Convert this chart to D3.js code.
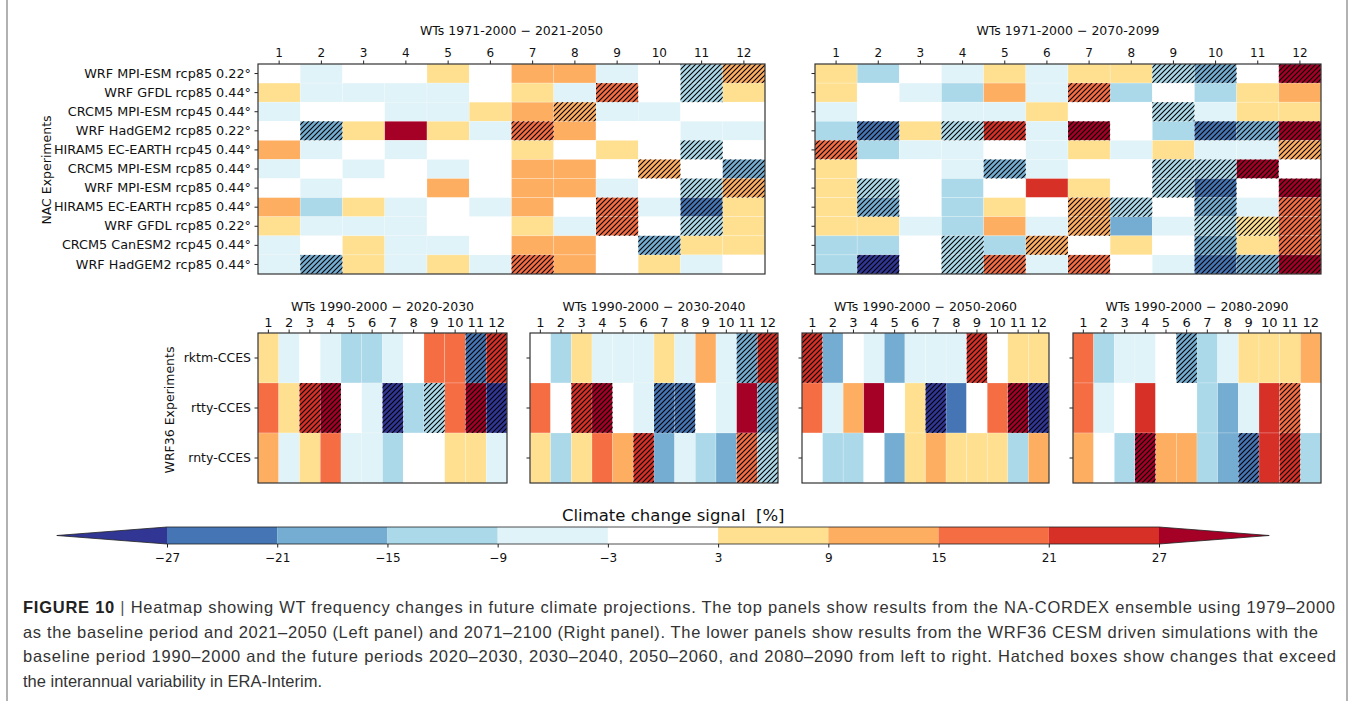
<!DOCTYPE html>
<html>
<head>
<meta charset="utf-8">
<script src="https://cdn.jsdelivr.net/npm/d3@7"></script>
<style>
    body { margin: 0; background: #fff; }
    svg text { font-family: "DejaVu Sans", sans-serif; fill: #111; }
    .caption text { font-family: "Liberation Sans", Arial, sans-serif; fill: #333; }
</style>
</head>
<body>
<svg id="chart" width="1358" height="701"></svg>
<script>
// Weather types (columns of every panel)
const wtLabels = ["1", "2", "3", "4", "5", "6", "7", "8", "9", "10", "11", "12"];

// NA-CORDEX experiments (rows of the top panels)
const nacRows = [
    "WRF MPI-ESM rcp85 0.22°",
    "WRF GFDL rcp85 0.44°",
    "CRCM5 MPI-ESM rcp45 0.44°",
    "WRF HadGEM2 rcp85 0.22°",
    "HIRAM5 EC-EARTH rcp45 0.44°",
    "CRCM5 MPI-ESM rcp85 0.44°",
    "WRF MPI-ESM rcp85 0.44°",
    "HIRAM5 EC-EARTH rcp85 0.44°",
    "WRF GFDL rcp85 0.22°",
    "CRCM5 CanESM2 rcp45 0.44°",
    "WRF HadGEM2 rcp85 0.44°"
];

// WRF36 experiments (rows of the bottom panels)
const wrfRows = ["rktm-CCES", "rtty-CCES", "rnty-CCES"];

// Colour classes of the climate change signal [%]
const signalBounds = [-27, -21, -15, -9, -3, 3, 9, 15, 21, 27];
const signalColors = ["#313695", "#4575b4", "#74add1", "#abd9e9", "#e0f3f8", "#ffffff",
                      "#fee090", "#fdae61", "#f46d43", "#d73027", "#a50026"];

// Signal per experiment and WT, 1971-2000 -> 2021-2050 (value read as class centre)
const nac2050 = [
    [0, -6, 0, 0, 6, 0, 12, 12, -6, 0, -12, 12],
    [6, -6, -6, -6, -6, 0, 6, -6, 18, 0, -12, 6],
    [-6, 0, 0, -6, -6, 6, 12, 12, -6, -6, 0, 0],
    [0, -18, 6, 30, 6, -6, 18, 12, 0, 0, -6, -6],
    [12, -6, 0, -6, 0, 0, 6, 0, 6, 0, -12, 0],
    [-6, 0, -6, 0, -6, 0, 12, 12, 0, 12, 0, -18],
    [0, -6, 0, 0, 12, 0, 12, 12, -6, 0, -12, 12],
    [12, -12, 6, -6, 0, -6, 12, 0, 18, -6, -24, 6],
    [6, -6, -6, -6, 0, 0, 6, -6, 18, 0, -12, 6],
    [-6, 0, 6, -6, -6, 0, 12, 12, 0, -18, 6, 6],
    [-6, -18, 6, -6, 6, -6, 18, 12, 0, 6, -6, 0]
];
const nac2050Hatch = [
    "000000000011", "000000001010", "000000010000", "010000100000",
    "000000000010", "000000000101", "000000000011", "000000001010",
    "000000001010", "000000000100", "010000100000"
];

// Signal per experiment and WT, 1971-2000 -> 2070-2099
const nac2099 = [
    [6, -12, 0, -6, 6, -6, 6, 6, -12, -18, 0, 30],
    [6, 0, -6, -12, 12, -6, 18, -12, 0, -12, 6, 12],
    [-6, 0, 0, -6, -6, 6, 0, 0, -12, -6, 6, 6],
    [-12, -24, 6, -12, 24, -6, 30, 0, -12, -24, -18, 30],
    [18, -12, -6, -6, 0, -6, 6, -6, 6, -6, -6, 12],
    [6, 0, 0, -6, -18, -6, 0, 0, -12, -12, 30, 0],
    [6, -12, 0, -12, 0, 24, 6, 0, -12, -24, 0, 30],
    [6, -18, 0, -12, 6, 0, 12, -12, 0, -18, -6, 18],
    [6, 6, -6, -12, 12, -6, 12, -18, -6, -12, 6, 18],
    [-12, -12, 0, -12, -12, 12, 0, 6, 0, -18, 6, 18],
    [-12, -30, 0, -12, 18, -6, 18, 0, -6, -24, -18, 30]
];
const nac2099Hatch = [
    "000000001101", "000000100000", "000000001000", "010110100111",
    "100000000001", "000010001110", "010000001101", "010000110101",
    "000000100111", "000101000101", "010110100111"
];

// WRF36 CESM, baseline 1990-2000
const wrf2030 = [
    [6, -6, 0, -6, -12, -12, -6, 0, 18, 18, -24, 24],
    [18, 6, 24, 30, 0, -6, -30, -12, -12, 18, 30, -30],
    [12, -6, 6, 18, -6, -6, -12, 0, 0, 6, 6, -6]
];
const wrf2030Hatch = ["000000000011", "001100101011", "000000000000"];

const wrf2040 = [
    [0, -12, 6, -6, -6, -6, 6, -6, 12, -6, -18, 24],
    [18, 0, 24, 30, 0, -6, -24, -24, 0, -6, 30, -18],
    [6, -12, 6, 18, 12, 24, -18, -6, -12, -18, 18, -12]
];
const wrf2040Hatch = ["000000000011", "001100110001", "000001000011"];

const wrf2060 = [
    [24, -18, 0, -6, -18, -6, -6, -6, 24, 0, 6, 6],
    [18, -6, 12, 30, 0, 6, -30, -24, 0, 18, 30, -30],
    [0, -12, -12, 0, -18, 6, 12, 6, 6, 6, -12, 12]
];
const wrf2060Hatch = ["100000001000", "000000100011", "000000000000"];

const wrf2090 = [
    [18, -12, -6, -6, 0, -18, -12, -6, 6, 6, 6, 12],
    [18, -6, 0, 24, 0, 0, -12, -18, -6, 24, 18, 0],
    [12, 0, -12, 30, 12, 12, -12, -18, -24, 24, 24, -12]
];
const wrf2090Hatch = ["000001000000", "000000000010", "000100001010"];

const captionLines = [
    "Heatmap showing WT frequency changes in future climate projections. The top panels show results from the NA-CORDEX ensemble using 1979–2000",
    "as the baseline period and 2021–2050 (Left panel) and 2071–2100 (Right panel). The lower panels show results from the WRF36 CESM driven simulations with the",
    "baseline period 1990–2000 and the future periods 2020–2030, 2030–2040, 2050–2060, and 2080–2090 from left to right. Hatched boxes show changes that exceed",
    "the interannual variability in ERA-Interim."
];

let svg   = d3.select("#chart");
let color = d3.scaleThreshold().domain(signalBounds).range(signalColors);

// Hatch pattern "///"
let s = 5;
svg.append("defs")
    .append("pattern")
    .attr("id", "hatch")
    .attr("patternUnits", "userSpaceOnUse")
    .attr("width", s)
    .attr("height", s)
    .append("path")
    .attr("d", `M0,${s} L${s},0 M${-s / 2},${s / 2} L${s / 2},${-s / 2} M${s / 2},${1.5 * s} L${1.5 * s},${s / 2}`)
    .attr("stroke", "#000")
    .attr("stroke-width", 1.1);

/**
 * Draw one heatmap panel: cells, hatching, axes, frame and title.
 *
 * @param {Object} p Panel settings
 */
function drawPanel(p)
{
    let x = d3.scaleBand().domain(wtLabels).range([p.left, p.right]);
    let y = d3.scaleBand().domain(p.rows).range([p.top, p.bottom]);

    let cells = [];
    p.values.forEach((row, i) => {
        row.forEach((v, j) => {
            cells.push({row: p.rows[i], wt: wtLabels[j], value: v, hatched: p.hatch[i][j] === "1"});
        });
    });

    let g = svg.append("g").attr("class", "panel");

    g.selectAll("rect.cell")
        .data(cells)
        .join("rect")
        .attr("class", "cell")
        .attr("x", d => x(d.wt))
        .attr("y", d => y(d.row))
        .attr("width", x.bandwidth())
        .attr("height", y.bandwidth())
        .attr("fill", d => color(d.value))
        .attr("stroke", "rgba(255,255,255,0.35)")
        .attr("stroke-width", 0.6);

    g.selectAll("rect.hatch")
        .data(cells.filter(d => d.hatched))
        .join("rect")
        .attr("class", "hatch")
        .attr("x", d => x(d.wt))
        .attr("y", d => y(d.row))
        .attr("width", x.bandwidth())
        .attr("height", y.bandwidth())
        .attr("fill", "url(#hatch)");

    // WT axis on top
    let xAxis = g.append("g")
        .attr("transform", `translate(0,${p.top})`)
        .call(d3.axisTop(x).tickSize(3.5).tickPadding(p.tickPad))
        .attr("font-family", "DejaVu Sans")
        .attr("font-size", p.tickFont)
        .attr("color", "#222");
    xAxis.select(".domain").remove();

    // experiment axis on the left, labels only on the first panel of a row
    let yAxisGen = d3.axisLeft(y).tickSize(3.5).tickPadding(3.5);
    if (!p.rowLabels) {
        yAxisGen.tickFormat(() => "");
    }
    let yAxis = g.append("g")
        .attr("transform", `translate(${p.left},0)`)
        .call(yAxisGen)
        .attr("font-family", "DejaVu Sans")
        .attr("font-size", p.rowFont)
        .attr("color", "#222");
    yAxis.select(".domain").remove();

    g.append("rect")
        .attr("x", p.left)
        .attr("y", p.top)
        .attr("width", p.right - p.left)
        .attr("height", p.bottom - p.top)
        .attr("fill", "none")
        .attr("stroke", "#333")
        .attr("stroke-width", 1.2);

    g.append("text")
        .attr("x", (p.left + p.right) / 2)
        .attr("y", p.titleY)
        .attr("text-anchor", "middle")
        .attr("font-size", 12.5)
        .text(p.title);
}

// Top panels
drawPanel({left: 258, right: 765, top: 64, bottom: 274, rows: nacRows, values: nac2050, hatch: nac2050Hatch,
    rowLabels: true, title: "WTs 1971-2000 − 2021-2050", titleY: 34.5, tickFont: 12, tickPad: 4, rowFont: 12.8});
drawPanel({left: 815, right: 1321, top: 64, bottom: 274, rows: nacRows, values: nac2099, hatch: nac2099Hatch,
    rowLabels: false, title: "WTs 1971-2000 − 2070-2099", titleY: 34.5, tickFont: 12, tickPad: 4, rowFont: 12.8});

// Bottom panels
let bottomPanels = [
    {left: 258, right: 507, values: wrf2030, hatch: wrf2030Hatch, title: "WTs 1990-2000 − 2020-2030"},
    {left: 530, right: 778, values: wrf2040, hatch: wrf2040Hatch, title: "WTs 1990-2000 − 2030-2040"},
    {left: 802, right: 1049, values: wrf2060, hatch: wrf2060Hatch, title: "WTs 1990-2000 − 2050-2060"},
    {left: 1073, right: 1321, values: wrf2090, hatch: wrf2090Hatch, title: "WTs 1990-2000 − 2080-2090"}
];
bottomPanels.forEach((bp, i) => {
    drawPanel(Object.assign({top: 333, bottom: 483, rows: wrfRows, rowLabels: i === 0, titleY: 311,
        tickFont: 13, tickPad: 3, rowFont: 12.5}, bp));
});

// Axis group titles
svg.append("text")
    .attr("transform", "translate(47,170) rotate(-90)")
    .attr("text-anchor", "middle")
    .attr("dy", "0.35em")
    .attr("font-size", 12.5)
    .text("NAC Experiments");

svg.append("text")
    .attr("transform", "translate(170,410) rotate(-90)")
    .attr("text-anchor", "middle")
    .attr("dy", "0.35em")
    .attr("font-size", 12.5)
    .text("WRF36 Experiments");

// Colour bar with triangular extensions
let cbX   = d3.scaleLinear().domain([signalBounds[0], signalBounds[signalBounds.length - 1]]).range([167, 1159]);
let cbTop = 527, cbBottom = 544, cbMid = (cbTop + cbBottom) / 2;
let ext   = cbX(signalBounds[1]) - cbX(signalBounds[0]);
let cb    = svg.append("g").attr("class", "colorbar");

cb.selectAll("rect")
    .data(d3.pairs(signalBounds))
    .join("rect")
    .attr("x", d => cbX(d[0]))
    .attr("y", cbTop)
    .attr("width", d => cbX(d[1]) - cbX(d[0]))
    .attr("height", cbBottom - cbTop)
    .attr("fill", d => color((d[0] + d[1]) / 2));

let x0 = cbX(signalBounds[0]), x1 = cbX(signalBounds[signalBounds.length - 1]);
cb.append("path")
    .attr("d", `M${x0},${cbTop} L${x0 - ext},${cbMid} L${x0},${cbBottom} Z`)
    .attr("fill", signalColors[0]);
cb.append("path")
    .attr("d", `M${x1},${cbTop} L${x1 + ext},${cbMid} L${x1},${cbBottom} Z`)
    .attr("fill", signalColors[signalColors.length - 1]);
cb.append("path")
    .attr("d", `M${x0 - ext},${cbMid} L${x0},${cbTop} L${x1},${cbTop} L${x1 + ext},${cbMid} L${x1},${cbBottom} L${x0},${cbBottom} Z`)
    .attr("fill", "none")
    .attr("stroke", "#222")
    .attr("stroke-width", 0.8);

let cbAxis = cb.append("g")
    .attr("transform", `translate(0,${cbBottom})`)
    .call(d3.axisBottom(cbX).tickValues(signalBounds).tickSize(3.5).tickPadding(6))
    .attr("font-family", "DejaVu Sans Condensed, DejaVu Sans")
    .attr("font-size", 12)
    .attr("color", "#222");
cbAxis.select(".domain").remove();

cb.append("text")
    .attr("x", 562)
    .attr("y", 521)
    .attr("font-size", 16.5)
    .style("white-space", "pre")
    .text("Climate change signal  [%]");

// Page frame
svg.append("line").attr("x1", 7).attr("x2", 7).attr("y1", 0).attr("y2", 701)
    .attr("stroke", "#999").attr("stroke-width", 1.5);
svg.append("line").attr("x1", 1347).attr("x2", 1347).attr("y1", 0).attr("y2", 701)
    .attr("stroke", "#999").attr("stroke-width", 1.5);

// Caption
let caption = svg.append("g").attr("class", "caption");
let lineWidths = [1312, 1295, 1313, null];
captionLines.forEach((line, i) => {
    let t = caption.append("text")
        .attr("x", 23)
        .attr("y", 613 + i * 24.5)
        .attr("font-size", 16.5);
    if (i === 0) {
        t.append("tspan").attr("font-weight", "bold").attr("fill", "#222").text("FIGURE 10 ");
        t.append("tspan").attr("fill", "#555").text("| ");
    }
    t.append("tspan").text(line);
    if (lineWidths[i]) {
        t.attr("textLength", lineWidths[i]).attr("lengthAdjust", "spacing");
    }
});
</script>
</body>
</html>
